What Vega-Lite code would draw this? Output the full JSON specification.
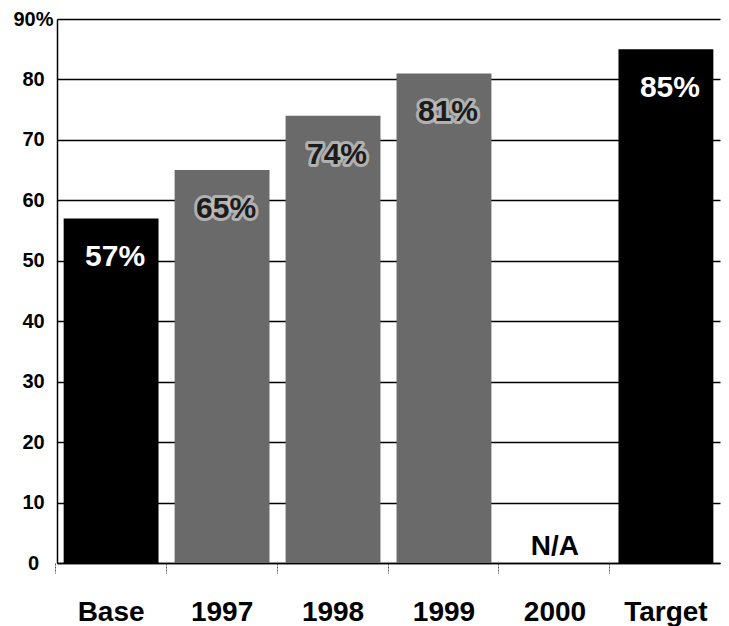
{
  "$schema": "https://vega.github.io/schema/vega-lite/v6.json",
  "width": 663,
  "height": 544,
  "autosize": {"type": "none"},
  "padding": {"left": 57, "top": 19, "right": 9, "bottom": 63},
  "background": "white",
  "config": {"view": {"stroke": null}, "font": "Liberation Sans"},
  "data": {
    "values": [
      {"category": "Base", "value": 57, "label": "57%", "kind": "benchmark"},
      {"category": "1997", "value": 65, "label": "65%", "kind": "annual"},
      {"category": "1998", "value": 74, "label": "74%", "kind": "annual"},
      {"category": "1999", "value": 81, "label": "81%", "kind": "annual"},
      {"category": "2000", "value": null, "label": "N/A", "kind": "missing"},
      {"category": "Target", "value": 85, "label": "85%", "kind": "benchmark"}
    ]
  },
  "encoding": {
    "x": {
      "field": "category",
      "type": "nominal",
      "sort": ["Base", "1997", "1998", "1999", "2000", "Target"],
      "scale": {
        "domain": ["Base", "1997", "1998", "1999", "2000", "Target"],
        "paddingInner": 0.145,
        "paddingOuter": 0.06
      },
      "axis": {
        "title": null,
        "domain": true,
        "domainColor": "#000000",
        "domainWidth": 1.5,
        "ticks": true,
        "bandPosition": -0.09,
        "tickSize": 10,
        "tickColor": "#555555",
        "tickWidth": 1,
        "tickDash": [2, 1],
        "grid": false,
        "labelAngle": 0,
        "labelFont": "Liberation Sans",
        "labelFontSize": 28,
        "labelFontWeight": "bold",
        "labelColor": "#000000",
        "labelBaseline": "alphabetic",
        "labelPadding": 47
      }
    }
  },
  "layer": [
    {
      "mark": {"type": "bar"},
      "transform": [{"filter": "isValid(datum.value)"}],
      "encoding": {
        "y": {
          "field": "value",
          "type": "quantitative",
          "scale": {"domain": [0, 90], "nice": false},
          "axis": {
            "title": null,
            "domain": true,
            "domainColor": "#000000",
            "domainWidth": 1.5,
            "grid": true,
            "gridColor": "#000000",
            "gridWidth": 1.5,
            "ticks": false,
            "values": [0, 10, 20, 30, 40, 50, 60, 70, 80, 90],
            "labelExpr": "datum.value == 90 ? '90%' : datum.label",
            "labelAlign": "center",
            "labelPadding": 24,
            "labelFont": "Liberation Sans",
            "labelFontSize": 20,
            "labelFontWeight": "bold",
            "labelColor": "#000000"
          }
        },
        "color": {
          "condition": {"test": "datum.kind == 'benchmark'", "value": "#000000"},
          "value": "#6a6a6a"
        }
      }
    },
    {
      "mark": {
        "type": "text",
        "fontSize": 30,
        "fontWeight": "bold",
        "baseline": "alphabetic",
        "dy": 48,
        "dx": 4,
        "fill": "#1c1c1c",
        "stroke": "#c4c4c4",
        "strokeWidth": 6,
        "strokeJoin": "round",
        "strokeOpacity": 0.8
      },
      "transform": [{"filter": "datum.kind == 'annual'"}],
      "encoding": {
        "y": {"field": "value", "type": "quantitative"},
        "text": {"field": "label"}
      }
    },
    {
      "mark": {
        "type": "text",
        "fontSize": 30,
        "fontWeight": "bold",
        "baseline": "alphabetic",
        "dy": 48,
        "dx": 4
      },
      "transform": [{"filter": "isValid(datum.value)"}],
      "encoding": {
        "y": {"field": "value", "type": "quantitative"},
        "text": {"field": "label"},
        "color": {
          "condition": {"test": "datum.kind == 'benchmark'", "value": "#ffffff"},
          "value": "#1c1c1c"
        }
      }
    },
    {
      "mark": {
        "type": "text",
        "fontSize": 28,
        "fontWeight": "bold",
        "baseline": "alphabetic",
        "dy": -8,
        "color": "#000000"
      },
      "transform": [{"filter": "datum.kind == 'missing'"}],
      "encoding": {
        "y": {"datum": 0, "type": "quantitative"},
        "text": {"field": "label"}
      }
    }
  ]
}
